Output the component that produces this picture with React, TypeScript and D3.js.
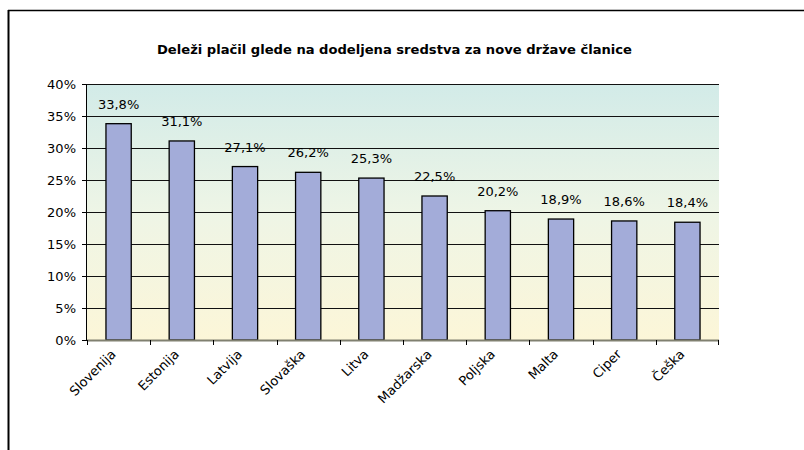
import React from "react";
import * as d3 from "d3";

const title = "Deleži plačil glede na dodeljena sredstva za nove države članice";
const categories = ["Slovenija", "Estonija", "Latvija", "Slovaška", "Litva", "Madžarska", "Poljska", "Malta", "Ciper", "Češka"];
const values = [33.8, 31.1, 27.1, 26.2, 25.3, 22.5, 20.2, 18.9, 18.6, 18.4];
const yTicks = [0, 5, 10, 15, 20, 25, 30, 35, 40];

const W = 804, H = 450;
const left = 87, right = 719, top = 84, bottom = 340;
const font = "'DejaVu Sans', Verdana, sans-serif";

export default function App() {
  const x = d3.scaleBand<string>().domain(categories).range([left, right]).paddingInner(0.6).paddingOuter(0.3);
  const xb = d3.scaleBand<string>().domain(categories).range([left, right]);
  const y = d3.scaleLinear().domain([0, 40]).range([bottom, top]);
  const fmt = (v: number) => v.toFixed(1).replace(".", ",") + "%";
  return (
    <svg width={W} height={H} style={{ position: "absolute", left: 0, top: 0 }} fontFamily={font}>
      <defs>
        <linearGradient id="bg" x1="0" y1="0" x2="0" y2="1">
          <stop offset="0" stopColor="#d2ebe8" />
          <stop offset="0.5" stopColor="#eef5e6" />
          <stop offset="1" stopColor="#fcf6d8" />
        </linearGradient>
      </defs>
      <rect width={W} height={H} fill="#fff" />
      <line x1={8.5} y1={10} x2={8.5} y2={H} stroke="#000" strokeWidth={2} />
      <line x1={8} y1={10.5} x2={W} y2={10.5} stroke="#000" strokeWidth={1.5} />
      <text x={157} y={54} textLength={475} lengthAdjust="spacingAndGlyphs" fontSize={13} fontWeight="bold" fill="#000">{title}</text>
      <rect x={left} y={top} width={right - left} height={bottom - top} fill="url(#bg)" />
      {yTicks.slice(1).map(t => (
        <line key={t} x1={left} x2={right} y1={Math.round(y(t)) + 0.5} y2={Math.round(y(t)) + 0.5} stroke="#111" strokeWidth={1} />
      ))}
      {values.map((v, i) => {
        const c = categories[i];
        return (
          <g key={c}>
            <rect x={x(c)!} y={y(v)} width={x.bandwidth()} height={bottom - y(v)} fill="#a3acd9" stroke="#000" strokeWidth={1.3} />
            <text x={x(c)! + x.bandwidth() / 2} y={y(v) - 15} textAnchor="middle" fontSize={13} fill="#000">{fmt(v)}</text>
          </g>
        );
      })}
      <line x1={left - 0.5} x2={left - 0.5} y1={top} y2={bottom} stroke="#000" strokeWidth={1} />
      <line x1={left} x2={right} y1={bottom + 0.5} y2={bottom + 0.5} stroke="#808070" strokeWidth={2} />
      {yTicks.map(t => (
        <g key={t}>
          <line x1={left - 5} x2={left} y1={Math.round(y(t)) + 0.5} y2={Math.round(y(t)) + 0.5} stroke="#000" />
          <text x={76} y={y(t) + 4.5} textAnchor="end" fontSize={13} fill="#000">{t}%</text>
        </g>
      ))}
      {categories.map((c, i) => (
        <line key={"t" + c} x1={Math.round(xb(c)!) + 0.5} x2={Math.round(xb(c)!) + 0.5} y1={bottom} y2={bottom + 5} stroke="#000" />
      ))}
      <line x1={right - 0.5} x2={right - 0.5} y1={bottom} y2={bottom + 5} stroke="#000" />
      {categories.map(c => {
        const cx = xb(c)! + xb.bandwidth() / 2 - 2;
        const cy = 355;
        return (
          <text key={"l" + c} x={cx} y={cy} textAnchor="end" fontSize={13} fill="#000" transform={`rotate(-45 ${cx} ${cy})`}>{c}</text>
        );
      })}
    </svg>
  );
}
